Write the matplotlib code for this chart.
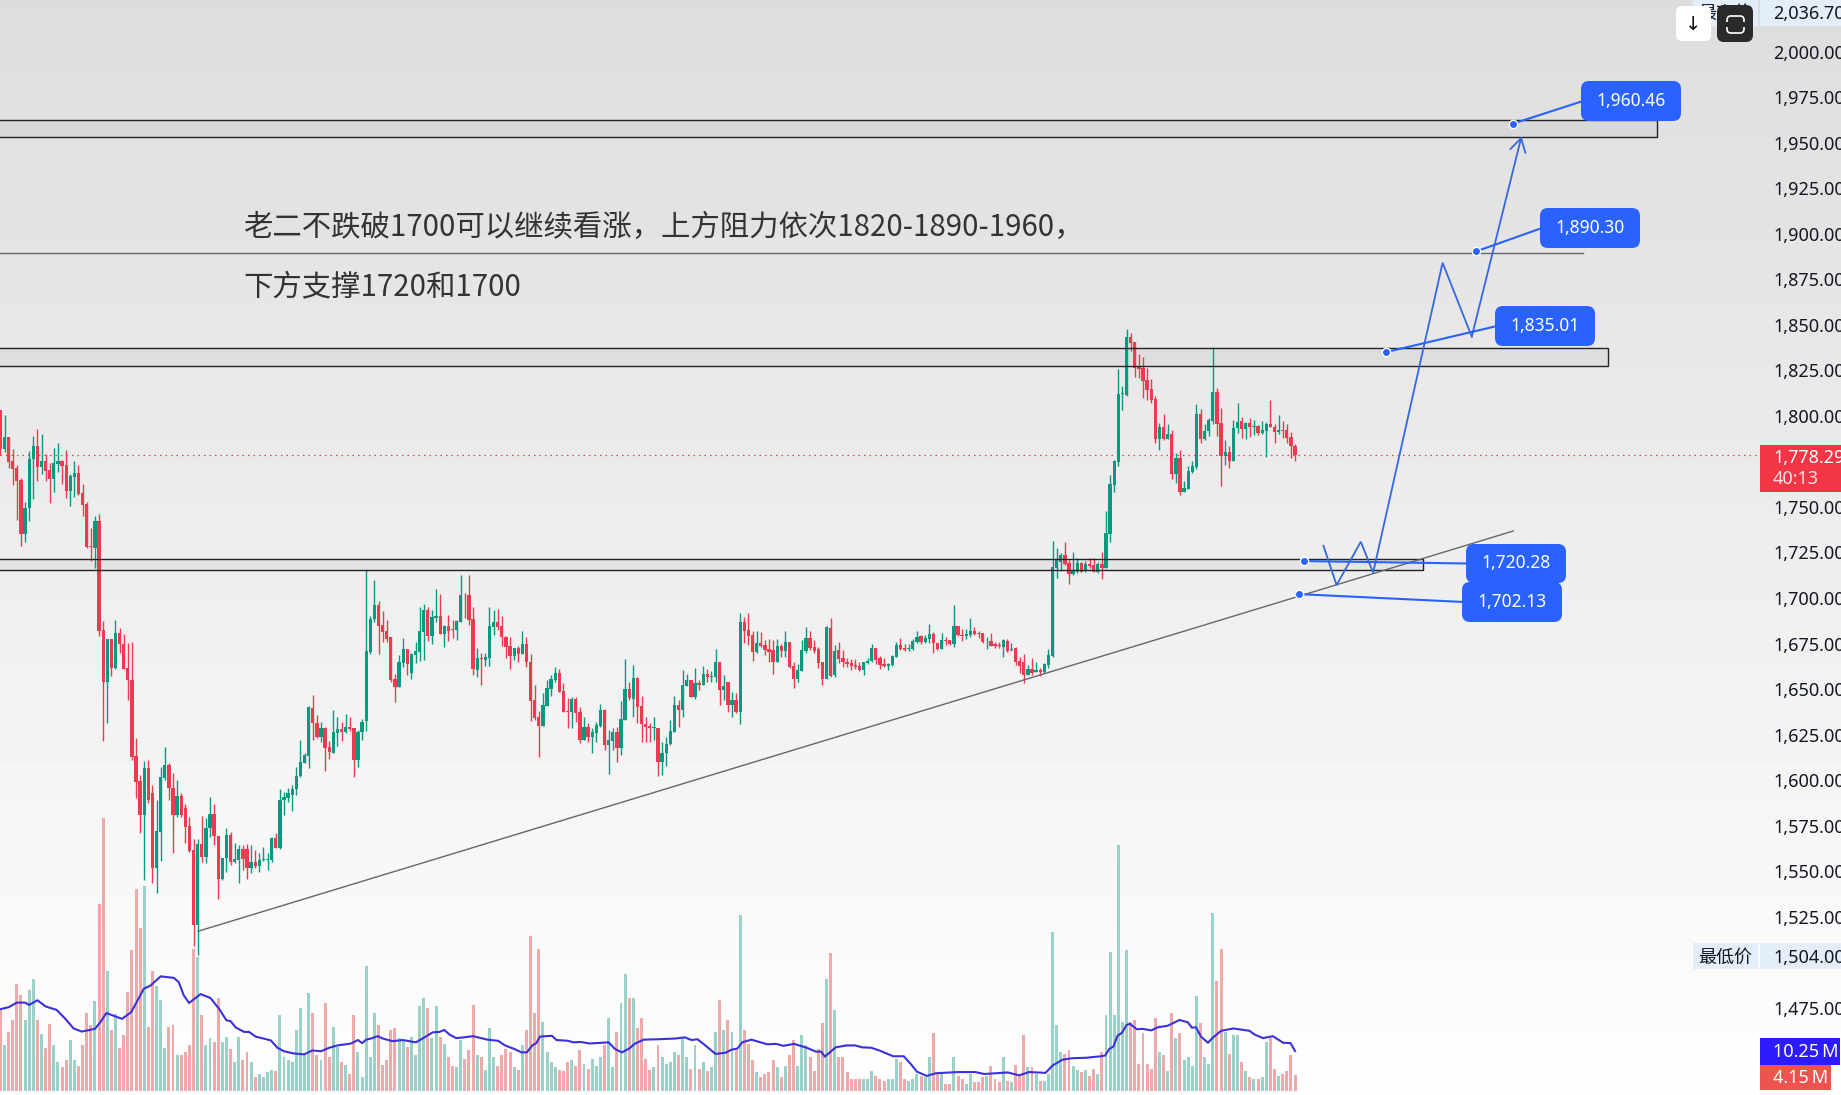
import matplotlib
matplotlib.use("Agg")
import matplotlib.pyplot as plt
import numpy as np
from matplotlib.patches import FancyBboxPatch, Rectangle
from matplotlib.transforms import Affine2D

plt.rcParams["font.family"] = ["Noto Sans CJK SC", "DejaVu Sans"]

# -- K线数据 --
opens = [
    1803.2, 1781.6, 1788.6, 1775.2, 1771.5, 1764.8, 1735.1, 1749.2, 1776.1, 1783.4,
    1772.1, 1775.2, 1770.3, 1765.3, 1773.6, 1775.2, 1773.0, 1758.9, 1766.2, 1768.4,
    1757.4, 1751.6, 1728.5, 1727.6, 1742.3, 1682.4, 1654.0, 1677.6, 1661.3, 1680.6,
    1674.7, 1661.3, 1654.9, 1613.2, 1599.5, 1581.0, 1606.4, 1592.7, 1551.5, 1571.7,
    1600.9, 1608.3, 1595.4, 1581.0, 1591.2, 1584.5, 1574.8, 1561.6, 1520.4, 1564.9,
    1557.9, 1573.5, 1581.4, 1569.3, 1545.7, 1557.0, 1569.8, 1555.2, 1556.1, 1562.1,
    1562.1, 1551.5, 1555.2, 1553.0, 1556.1, 1556.1, 1556.1, 1568.0, 1562.9, 1589.0,
    1590.0, 1591.8, 1594.9, 1602.0, 1609.5, 1613.4, 1639.4, 1631.5, 1623.5, 1628.4,
    1618.3, 1615.0, 1626.0, 1628.0, 1626.4, 1629.3, 1628.4, 1611.0, 1626.4, 1632.4,
    1670.5, 1688.2, 1696.1, 1685.1, 1682.0, 1678.4, 1655.3, 1651.3, 1664.4, 1672.0,
    1659.0, 1668.7, 1670.5, 1681.5, 1693.4, 1679.3, 1689.2, 1690.3, 1680.2, 1684.6, 1682.9, 1682.4,
    1687.0, 1701.9, 1701.7, 1688.3, 1660.5, 1667.1, 1666.0, 1667.3, 1684.3, 1687.0,
    1684.7, 1678.8, 1673.7, 1668.4, 1672.8, 1669.3, 1674.8, 1664.7, 1644.0, 1634.9,
    1629.9, 1640.9, 1650.0, 1655.0, 1658.7, 1649.0, 1638.0, 1637.2, 1644.4, 1637.2,
    1622.1, 1629.4, 1623.9, 1626.0, 1629.7, 1638.5, 1619.3, 1621.7, 1626.6, 1617.8,
    1633.0, 1649.9, 1644.6, 1656.3, 1640.7, 1630.8, 1629.7, 1628.8, 1628.8, 1609.8,
    1614.7, 1619.7, 1626.6, 1641.3, 1638.5, 1651.7, 1655.0, 1645.5, 1653.5, 1652.3,
    1658.1, 1656.8, 1656.8, 1664.9, 1649.5, 1654.1, 1641.3, 1644.0, 1637.2, 1687.0,
    1682.5, 1679.7, 1670.2, 1675.1, 1674.2, 1672.0, 1671.5, 1665.1, 1673.7, 1671.1,
    1676.1, 1662.7, 1655.4, 1659.9, 1671.1, 1677.9, 1672.9, 1671.8, 1664.9, 1655.6,
    1683.4, 1657.7, 1671.5, 1666.9, 1665.1, 1664.5, 1663.2, 1662.7, 1660.5, 1664.2,
    1665.4, 1672.4, 1666.9, 1663.6, 1662.9, 1663.2, 1667.8, 1674.2, 1672.6, 1671.8,
    1671.8, 1676.0, 1679.2, 1676.0, 1677.5, 1680.3, 1675.5, 1672.0, 1677.0, 1677.0,
    1674.8, 1684.7, 1679.7, 1679.2, 1679.7, 1682.1, 1681.0, 1680.6, 1676.2, 1676.4,
    1674.8, 1674.4, 1673.3, 1676.6, 1671.5, 1672.4,
    1665.6, 1664.7, 1657.7, 1661.0, 1659.6, 1660.5, 1659.6, 1663.2,
    1668.2, 1716.3, 1719.6, 1723.7, 1719.1, 1713.0, 1714.5, 1719.1, 1714.9, 1718.7,
    1718.2, 1714.1, 1718.5, 1716.7, 1735.2, 1762.1, 1774.9, 1812.1, 1811.5, 1843.2,
    1840.6, 1827.1, 1826.5, 1819.8, 1814.6, 1809.3, 1787.4, 1794.1, 1787.4, 1790.1,
    1768.3, 1777.1, 1758.4, 1759.9, 1769.4, 1772.2, 1801.1, 1787.2, 1791.7, 1797.2,
    1813.0, 1796.3, 1778.2, 1780.0, 1775.5, 1793.2, 1797.2, 1792.9, 1795.9, 1794.1,
    1794.5, 1790.5, 1791.8, 1795.6, 1794.1, 1791.4, 1792.3, 1792.3, 1788.6, 1783.5,
]
closes = [
    1781.6, 1788.6, 1774.8, 1770.8, 1764.2, 1735.1, 1749.2, 1776.1, 1783.4, 1772.1,
    1775.2, 1769.9, 1765.3, 1773.9, 1775.2, 1772.6, 1758.9, 1767.0, 1768.4, 1757.1,
    1751.0, 1728.2, 1728.2, 1742.3, 1682.0, 1654.0, 1677.6, 1661.7, 1680.6, 1674.7,
    1661.2, 1654.9, 1612.5, 1599.1, 1581.0, 1606.4, 1589.0, 1551.5, 1572.0, 1601.5,
    1608.3, 1595.4, 1581.0, 1591.2, 1581.0, 1574.4, 1561.2, 1520.4, 1564.9, 1557.9,
    1573.5, 1581.4, 1569.3, 1545.7, 1557.4, 1569.8, 1555.2, 1556.5, 1562.1, 1556.5,
    1551.5, 1555.2, 1553.0, 1556.0, 1556.5, 1556.5, 1568.0, 1562.9, 1589.0, 1590.9,
    1592.7, 1594.9, 1602.2, 1610.1, 1613.8, 1639.9, 1631.1, 1623.5, 1628.4, 1617.8,
    1615.6, 1626.6, 1628.0, 1626.4, 1629.3, 1627.8, 1611.0, 1626.4, 1632.1, 1670.9,
    1688.4, 1696.1, 1684.6, 1681.5, 1677.5, 1654.9, 1651.3, 1664.6, 1672.0, 1663.5,
    1669.2, 1670.9, 1681.8, 1693.4, 1679.3, 1689.7, 1690.3, 1680.2, 1684.6, 1682.0, 1682.6, 1687.3,
    1701.7, 1701.5, 1687.9, 1661.0, 1666.9, 1666.4, 1667.4, 1684.7, 1687.0, 1684.3,
    1678.4, 1673.3, 1668.2, 1672.8, 1669.3, 1674.8, 1664.7, 1643.7, 1634.3, 1629.9,
    1641.3, 1650.4, 1655.6, 1658.7, 1648.6, 1637.6, 1637.6, 1644.4, 1637.1, 1622.1,
    1629.4, 1623.5, 1626.4, 1630.3, 1638.5, 1619.3, 1622.1, 1626.6, 1617.8, 1633.4,
    1649.9, 1644.9, 1656.3, 1640.4, 1630.7, 1629.4, 1628.5, 1629.4, 1609.8, 1614.7,
    1619.9, 1627.0, 1641.3, 1638.5, 1652.3, 1655.0, 1645.9, 1653.5, 1652.3, 1658.1,
    1656.5, 1657.2, 1665.1, 1649.5, 1651.7, 1641.3, 1644.0, 1637.2, 1687.0, 1682.1,
    1679.2, 1670.6, 1675.1, 1673.7, 1671.5, 1670.6, 1665.1, 1673.7, 1671.1, 1676.1,
    1662.0, 1655.6, 1660.5, 1671.5, 1677.9, 1672.4, 1671.1, 1664.5, 1655.6, 1684.3,
    1657.4, 1671.1, 1666.5, 1665.1, 1663.8, 1662.7, 1661.9, 1660.5, 1664.7, 1665.3,
    1672.4, 1666.0, 1663.2, 1662.7, 1664.0, 1668.2, 1674.2, 1671.8, 1671.5, 1672.4,
    1676.6, 1678.4, 1675.7, 1677.9, 1680.3, 1675.1, 1672.0, 1677.0, 1676.4, 1674.8,
    1684.7, 1679.5, 1679.3, 1680.3, 1681.9, 1680.3, 1680.3, 1676.0, 1676.6, 1673.9,
    1673.7, 1673.7, 1677.0, 1670.9, 1671.8, 1665.1,
    1662.9, 1657.7, 1661.0, 1659.0, 1660.5, 1659.6, 1663.6, 1668.7,
    1717.2, 1720.9, 1723.7, 1718.5, 1713.2, 1715.4, 1719.1, 1714.5, 1718.5, 1717.6,
    1714.5, 1718.5, 1716.7, 1735.6, 1762.5, 1775.5, 1812.1, 1812.4, 1843.2, 1840.3,
    1826.2, 1825.8, 1819.2, 1814.3, 1808.8, 1787.4, 1794.1, 1787.2, 1790.1, 1768.3,
    1777.1, 1758.4, 1760.3, 1769.8, 1772.5, 1801.1, 1787.4, 1791.9, 1797.8, 1813.0,
    1795.6, 1778.0, 1780.0, 1775.3, 1793.6, 1796.9, 1792.9, 1796.3, 1794.1, 1794.5,
    1790.5, 1792.3, 1795.6, 1793.8, 1791.4, 1792.3, 1791.9, 1787.7, 1783.2, 1778.29,
]
highs = [
    1803.2, 1800.5, 1788.6, 1781.6, 1773.0, 1765.7, 1752.9, 1780.7, 1788.9, 1792.6,
    1790.0, 1778.9, 1773.9, 1782.5, 1784.9, 1775.7, 1781.2, 1768.1, 1775.4, 1773.0,
    1762.6, 1752.9, 1738.2, 1745.0, 1745.9, 1687.3, 1677.6, 1677.6, 1687.9, 1683.3,
    1680.2, 1675.1, 1675.6, 1622.9, 1602.8, 1610.6, 1611.0, 1597.3, 1589.0, 1607.3,
    1618.0, 1609.2, 1603.7, 1600.0, 1592.7, 1586.7, 1579.9, 1567.4, 1567.4, 1580.3,
    1579.0, 1590.9, 1586.7, 1569.3, 1557.4, 1573.5, 1571.7, 1565.2, 1564.3, 1564.3,
    1564.9, 1564.3, 1561.6, 1559.7, 1563.4, 1559.7, 1568.5, 1570.7, 1595.1, 1593.6,
    1595.4, 1597.3, 1607.3, 1622.0, 1615.0, 1640.7, 1646.7, 1635.7, 1632.1, 1629.3,
    1621.6, 1638.5, 1634.8, 1631.7, 1636.3, 1634.8, 1628.4, 1627.5, 1633.3, 1715.3,
    1690.1, 1709.9, 1698.3, 1693.0, 1687.9, 1678.4, 1658.2, 1668.7, 1677.8, 1672.0,
    1669.9, 1676.0, 1695.2, 1696.7, 1695.2, 1693.4, 1704.9, 1702.2, 1685.1, 1690.6, 1687.9, 1687.9,
    1712.7, 1702.6, 1712.7, 1695.3, 1672.4, 1670.0, 1670.0, 1694.9, 1693.4, 1693.8,
    1690.1, 1679.2, 1678.4, 1672.8, 1673.7, 1681.9, 1678.4, 1669.1, 1652.1, 1638.2,
    1647.7, 1655.0, 1657.7, 1662.0, 1660.9, 1653.2, 1644.9, 1645.5, 1645.9, 1640.4,
    1634.9, 1631.2, 1628.5, 1632.1, 1641.6, 1639.1, 1627.5, 1628.5, 1629.0, 1643.7,
    1666.4, 1654.1, 1663.2, 1656.8, 1646.4, 1634.9, 1631.6, 1634.5, 1628.8, 1620.8,
    1623.5, 1633.0, 1646.2, 1644.0, 1660.5, 1658.3, 1655.0, 1661.8, 1655.0, 1662.7,
    1660.9, 1659.9, 1671.9, 1664.9, 1657.7, 1654.1, 1648.6, 1648.0, 1691.6, 1689.8,
    1692.0, 1682.1, 1681.9, 1681.5, 1677.0, 1677.3, 1677.0, 1677.3, 1674.6, 1682.1,
    1676.1, 1665.1, 1663.6, 1677.0, 1683.9, 1682.1, 1677.0, 1672.9, 1664.9, 1684.8,
    1688.9, 1674.2, 1676.1, 1671.5, 1666.9, 1666.5, 1666.3, 1665.1, 1665.1, 1666.9,
    1674.8, 1672.4, 1668.2, 1666.9, 1664.2, 1668.7, 1676.0, 1677.9, 1674.8, 1674.8,
    1677.3, 1681.9, 1679.7, 1679.7, 1685.8, 1681.5, 1675.5, 1680.6, 1678.4, 1677.0,
    1696.2, 1684.7, 1683.0, 1682.8, 1688.9, 1684.3, 1682.1, 1680.6, 1678.4, 1680.6,
    1676.0, 1676.0, 1677.3, 1677.3, 1675.1, 1672.9,
    1667.4, 1669.3, 1663.2, 1666.9, 1664.7, 1661.4, 1664.1, 1672.0,
    1731.5, 1727.3, 1724.6, 1730.6, 1720.9, 1725.1, 1722.2, 1719.6, 1720.5, 1721.8,
    1721.8, 1720.0, 1725.1, 1747.8, 1767.6, 1775.8, 1825.6, 1816.5, 1847.8, 1845.4,
    1840.6, 1833.9, 1832.2, 1826.2, 1820.1, 1811.2, 1796.0, 1801.1, 1795.6, 1792.3,
    1779.5, 1781.3, 1764.3, 1772.5, 1775.5, 1806.6, 1803.8, 1795.6, 1798.7, 1837.7,
    1815.2, 1804.2, 1786.8, 1783.5, 1797.8, 1806.9, 1799.3, 1796.9, 1798.7, 1797.8,
    1795.0, 1797.2, 1796.9, 1808.8, 1795.6, 1800.5, 1797.2, 1795.6, 1791.4, 1784.6,
]
lows = [
    1778.5, 1780.3, 1771.5, 1762.0, 1742.8, 1728.7, 1730.9, 1742.4, 1754.2, 1764.4,
    1768.1, 1764.4, 1752.3, 1758.2, 1769.3, 1762.6, 1755.1, 1750.7, 1755.6, 1756.5,
    1745.2, 1727.2, 1720.5, 1716.6, 1679.3, 1621.6, 1631.5, 1657.1, 1660.8, 1669.6,
    1661.2, 1644.0, 1611.0, 1590.0, 1570.7, 1545.1, 1587.2, 1543.3, 1538.2, 1555.5,
    1600.0, 1589.0, 1559.7, 1579.9, 1579.9, 1565.2, 1560.7, 1508.9, 1504.0, 1555.2,
    1554.6, 1568.9, 1564.3, 1534.5, 1545.1, 1549.7, 1553.3, 1554.7, 1543.3, 1550.6,
    1545.5, 1548.8, 1551.5, 1549.7, 1555.7, 1550.6, 1555.2, 1562.9, 1562.1, 1580.8,
    1588.1, 1583.2, 1591.8, 1601.5, 1609.2, 1606.4, 1622.0, 1622.9, 1621.1, 1605.1,
    1611.6, 1614.7, 1618.7, 1621.6, 1625.7, 1627.1, 1601.8, 1607.3, 1622.0, 1627.1,
    1669.2, 1687.0, 1669.2, 1676.0, 1675.6, 1654.0, 1643.0, 1650.9, 1662.3, 1657.7,
    1655.5, 1664.1, 1665.6, 1665.9, 1676.5, 1674.7, 1687.0, 1680.2, 1673.2, 1676.5, 1677.8, 1676.9,
    1687.0, 1688.9, 1685.2, 1657.7, 1656.8, 1652.3, 1662.7, 1662.7, 1679.7, 1682.5,
    1673.7, 1667.3, 1661.0, 1666.0, 1665.1, 1669.3, 1662.0, 1632.7, 1633.0, 1612.5,
    1629.9, 1640.9, 1646.4, 1654.1, 1648.2, 1637.6, 1628.5, 1628.5, 1632.1, 1620.2,
    1622.1, 1621.1, 1614.7, 1621.1, 1629.4, 1616.6, 1603.4, 1616.6, 1610.2, 1613.8,
    1633.0, 1644.0, 1634.5, 1631.2, 1621.1, 1621.1, 1621.1, 1622.1, 1602.5, 1602.8,
    1608.0, 1619.3, 1626.6, 1629.4, 1634.9, 1651.7, 1645.5, 1644.4, 1649.5, 1652.3,
    1654.1, 1654.1, 1653.7, 1641.3, 1644.0, 1637.2, 1634.9, 1637.1, 1630.8, 1675.1,
    1674.2, 1665.4, 1670.0, 1673.3, 1668.7, 1665.1, 1658.3, 1664.9, 1667.4, 1667.4,
    1661.4, 1650.8, 1654.1, 1659.9, 1670.0, 1671.5, 1670.0, 1661.4, 1652.3, 1655.6,
    1656.8, 1656.5, 1664.2, 1662.3, 1661.9, 1660.5, 1660.9, 1659.9, 1657.7, 1663.8,
    1665.1, 1663.8, 1660.9, 1661.9, 1660.5, 1662.7, 1667.4, 1671.5, 1670.9, 1671.1,
    1671.5, 1675.1, 1674.8, 1675.5, 1675.5, 1670.0, 1671.5, 1671.8, 1674.2, 1674.2,
    1673.3, 1679.2, 1676.6, 1677.3, 1678.4, 1679.9, 1677.9, 1675.1, 1672.0, 1673.7,
    1672.4, 1672.4, 1667.8, 1670.6, 1671.1, 1663.2,
    1658.7, 1653.5, 1657.6, 1657.7, 1659.4, 1657.2, 1659.0, 1661.4,
    1667.8, 1710.8, 1715.1, 1718.2, 1707.7, 1712.7, 1713.6, 1714.5, 1714.5, 1716.3,
    1714.3, 1713.6, 1710.5, 1716.7, 1731.0, 1758.4, 1772.5, 1803.3, 1811.0, 1835.9,
    1821.6, 1820.7, 1810.1, 1808.8, 1806.9, 1785.3, 1781.0, 1786.8, 1787.4, 1765.4,
    1763.4, 1756.6, 1758.2, 1759.9, 1768.5, 1771.1, 1785.3, 1786.8, 1789.2, 1795.6,
    1789.0, 1761.7, 1773.1, 1771.6, 1775.3, 1790.8, 1787.7, 1787.4, 1788.6, 1789.6,
    1789.6, 1790.1, 1777.3, 1793.8, 1785.3, 1789.9, 1787.7, 1785.0, 1776.7, 1775.5,
]

# -- 成交量 (M) --
volumes = [
    20.8, 11.7, 15.1, 18.2, 27.5, 24.7, 18.2, 26.0, 29.0, 18.4,
    14.7, 11.0, 17.3, 11.9, 7.5, 6.2, 7.8, 13.0, 7.8, 6.5,
    11.7, 20.2, 17.1, 23.1, 48.3, 70.6, 31.1, 15.6, 19.9, 11.0,
    14.5, 25.5, 36.3, 52.2, 42.0, 52.9, 16.4, 31.1, 27.0, 23.6,
    11.0, 16.6, 17.1, 9.3, 9.1, 10.1, 11.9, 36.8, 34.6, 19.7,
    11.9, 13.5, 12.5, 24.1, 12.5, 13.8, 10.9, 7.3, 14.0, 7.8,
    9.9, 7.3, 3.4, 4.4, 3.4, 4.9, 5.4, 5.2, 19.5, 8.8,
    8.0, 7.3, 15.6, 21.3, 9.1, 25.4, 20.0, 9.3, 7.8, 22.8,
    8.6, 16.6, 11.4, 7.3, 6.7, 4.4, 19.7, 10.1, 3.4, 32.2,
    8.6, 20.0, 17.1, 6.7, 8.0, 15.6, 16.1, 13.5, 13.2, 11.4,
    13.8, 9.3, 21.8, 24.1, 21.5, 13.5, 21.8, 14.0, 12.2, 8.6, 6.5, 6.2,
    13.0, 8.3, 10.6, 22.1, 9.1, 8.6, 5.4, 16.3, 8.6, 6.5,
    9.3, 10.9, 9.9, 6.2, 5.4, 11.7, 15.6, 40.0, 20.2, 36.8,
    17.9, 9.9, 7.3, 6.2, 5.4, 5.2, 7.5, 7.8, 6.5, 10.6,
    7.0, 5.7, 8.3, 6.5, 8.6, 11.9, 18.7, 6.2, 15.3, 22.6,
    30.1, 23.9, 24.1, 16.3, 18.7, 8.3, 5.4, 6.0, 11.7, 8.8,
    7.0, 7.3, 9.9, 9.3, 13.5, 8.6, 5.7, 11.9, 5.7, 7.5,
    5.2, 6.0, 15.3, 23.4, 15.6, 18.4, 15.1, 10.4, 45.4, 15.6,
    12.2, 7.8, 4.7, 3.6, 4.4, 4.7, 8.0, 6.0, 3.6, 6.5,
    9.1, 13.2, 6.5, 14.5, 11.7, 8.8, 5.2, 10.9, 17.4, 28.8,
    35.6, 20.8, 8.8, 8.6, 4.7, 3.1, 2.9, 3.1, 2.9, 2.9,
    5.2, 3.9, 3.1, 2.6, 2.9, 2.9, 8.3, 7.3, 2.9, 2.6,
    3.1, 4.2, 3.9, 3.6, 8.6, 14.8, 4.2, 4.7, 1.8, 1.6,
    8.8, 3.9, 3.1, 1.8, 4.4, 2.1, 2.1, 3.4, 3.9, 6.5,
    3.1, 2.3, 8.6, 2.6, 2.1, 6.7,
    4.1, 14.3, 6.0, 6.2, 4.4, 2.6, 2.6, 4.2,
    41.0, 17.1, 10.1, 9.6, 10.4, 6.5, 5.4, 4.9, 5.4, 3.9,
    5.7, 4.4, 10.1, 19.7, 35.8, 19.7, 63.6, 17.9, 36.3, 17.9,
    18.4, 7.0, 14.8, 7.0, 5.7, 18.7, 10.1, 9.3, 5.2, 20.0,
    13.5, 14.8, 7.8, 8.6, 6.5, 24.4, 17.6, 8.6, 7.0, 45.9,
    28.3, 36.6, 15.3, 9.6, 14.5, 14.5, 7.5, 5.2, 3.4, 2.9,
    3.1, 3.6, 12.7, 13.5, 5.7, 3.9, 4.2, 5.2, 9.1, 4.15,
]

# -- 成交量均线 --
ma_idx = [
    0, 2, 4, 6, 7, 9, 11, 13.7, 15.8, 17.8, 19.8, 23, 24.3, 25.8, 28, 29.6, 31.8, 33.4, 34.9, 36.5,
    39, 42.2, 43.4, 44.6, 45.9, 48.7, 51.1, 53.2, 55, 56, 57.2, 59.3, 60.5, 62.1, 65.8, 67.4, 69,
    71.5, 73.9, 75.9, 78, 80, 82, 85.3, 87, 88, 89, 90.2, 91.8, 93, 95.4, 97.9, 101.1, 103.2, 105.2,
    106.8, 108, 109.3, 110.9,
    112, 115, 118.5, 121.1, 122.8, 125, 126.8, 128.1, 129.4, 130.4, 131.3, 134.2, 135.3, 138.1,
    139.4, 141.2, 143.4, 148, 149.5, 151.2, 153, 154.3, 156.5, 160, 164.3, 166.5, 168.2, 169.6,
    171.3, 174, 176.4, 177.9, 179.3, 180.5, 182.7, 186.6, 188.8, 190.5, 193.1, 196.2, 198.4, 199.7,
    200.6, 203.2, 205.8, 208, 209.7, 211.9, 214.1, 217.2, 219.8, 221.5, 223, 225.4, 227.6, 232.9,
    237.2, 239.4, 245.1, 247.7,
    248, 250.3, 254.3, 256, 258.4, 260.8, 264.1, 267.8, 268.8, 269.8, 270.8, 271.8, 272.9, 274,
    274.8, 276.5, 277.9, 280, 281.6, 284, 286.9, 288.9, 289.9, 290.9, 292.1, 293.8, 295, 297, 300,
    303.9, 305.2, 307.2, 309.6, 312.1, 313.9, 315,
]
ma_vals = [
    21.1, 21.6, 22.8, 22.8, 22.2, 23.4, 21.8, 20.9, 18.6, 16.1, 15.3, 16.0, 17.7, 20.1, 19.2, 18.6, 20.3, 23.4, 26.4, 27.2,
    29.6, 29.2, 28.1, 24.7, 22.7, 25.0, 24.0, 21.2, 18.2, 18.0, 16.4, 15.2, 15.2, 14.0, 13.0, 11.1, 10.2,
    9.6, 9.4, 10.4, 10.2, 11.1, 11.7, 12.2, 13.1, 12.3, 13.2, 13.5, 14.1, 13.5, 12.8, 13.1, 12.5, 13.8, 15.1,
    15.2, 15.7, 14.5, 13.6,
    13.7, 14.1, 13.2, 12.9, 11.7, 10.8, 9.9, 9.9, 11.7, 12.3, 14.0, 14.2, 13.1, 12.9,
    12.5, 12.6, 12.2, 12.5, 10.8, 9.9, 10.9, 12.1, 13.2, 13.3, 13.5, 13.8, 13.1, 13.3,
    11.9, 9.5, 9.8, 10.6, 10.9, 12.5, 13.2, 12.0, 12.1, 11.6, 12.1, 11.1, 10.1, 10.1,
    8.8, 11.2, 11.7, 11.7, 11.2, 11.1, 10.3, 8.9, 8.9, 6.9, 4.9, 3.8, 4.5, 4.8,
    4.8, 4.3, 4.7, 4.0,
    4.0, 4.8, 4.6, 6.5, 8.0, 8.4, 8.5, 8.9, 9.1, 10.8, 11.4, 14.2, 15.0, 17.0,
    17.3, 15.9, 16.0, 15.6, 16.4, 16.8, 18.3, 17.7, 16.3, 16.4, 14.0, 12.4, 13.7, 15.5, 16.1,
    15.5, 14.5, 13.6, 14.1, 12.4, 12.3, 10.25,
]

# -- 画线与标注 --
price_ticks = [2000, 1975, 1950, 1925, 1900, 1875, 1850, 1825, 1800, 1750, 1725, 1700,
               1675, 1650, 1625, 1600, 1575, 1550, 1525, 1475]
zones = [(1953.0, 1962.3, 403.1), (1827.4, 1837.1, 391.2), (1715.4, 1721.3, 346.2)]
resist_line = (1889.3, 385.1)
trend_idx = [48.1, 368.1]
trend_price = [1517.0, 1736.8]
path_idx = [321.9, 325.1, 331.0, 334.0, 350.9, 358.0, 370.1]
path_price = [1728.7, 1707.1, 1730.9, 1713.9, 1884.1, 1843.5, 1953.5]
tag_idx = [368.0, 359.0, 337.1, 317.2, 316.0]
tag_price = [1960.46, 1890.30, 1835.01, 1720.28, 1702.13]
last_price = 1778.29
low_price = 1504.00
high_price = 2036.70
ma_last = 10.25
vol_last = 4.15

W, H = 1841, 1095
UP, DOWN = "#089981", "#ec3a50"
UP_V, DOWN_V = "#9ad1c8", "#f0a9aa"
BLUE = "#2962ff"
TAG_BG = "#e4edfa"
TXT = "#131722"
NUM_FONT = ["Noto Sans", "DejaVu Sans"]

# 左上角为原点的像素坐标，给标签和按钮用
pix = Affine2D().scale(1, -1).translate(0, H)


def px_to_idx(x):
    return (x - 0.4) / 4.11


def round_box(ax, x0, y0, x1, y1, color, r=7, z=8):
    ax.add_patch(FancyBboxPatch((x0, y0), x1 - x0, y1 - y0, boxstyle=f"round,pad=0,rounding_size={r}",
                                fc=color, ec="none", transform=pix, zorder=z, clip_on=False))


fig = plt.figure(figsize=(W / 100, H / 100), dpi=100)

# 背景渐变
ax_bg = fig.add_axes([0, 0, 1, 1], zorder=0)
shade = np.linspace(221, 254, 256).reshape(-1, 1)
ax_bg.imshow(shade, cmap="gray", vmin=0, vmax=255, aspect="auto", interpolation="bilinear")
ax_bg.axis("off")

xlim = (px_to_idx(0), px_to_idx(W))

# -- 成交量 --
ax_v = fig.add_axes([0, 0, 1, 1], zorder=1)
ax_v.patch.set_visible(False)
ax_v.set_xlim(xlim)
ax_v.set_ylim(-4.4 / 3.86, 1090.6 / 3.86)
ax_v.axis("off")

o = np.array(opens)
c = np.array(closes)
hi = np.array(highs)
lo = np.array(lows)
v = np.array(volumes)
idx = np.arange(len(o))
rising = c >= o

ax_v.bar(idx[rising], v[rising], width=0.72, color=UP_V, lw=0)
ax_v.bar(idx[~rising], v[~rising], width=0.72, color=DOWN_V, lw=0)
ax_v.plot(ma_idx, ma_vals, color="#3a30dc", lw=1.5, solid_joinstyle="round")

# -- K线 --
ax = fig.add_axes([0, 0, 1, 1], zorder=2)
ax.patch.set_visible(False)
ax.set_xlim(xlim)
ax.set_ylim(2000 - (H - 51.7) / 1.821, 2000 + 51.7 / 1.821)
ax.axis("off")

ax.vlines(idx[rising], lo[rising], hi[rising], color=UP, lw=1.0, zorder=3)
ax.vlines(idx[~rising], lo[~rising], hi[~rising], color=DOWN, lw=1.0, zorder=3)
ax.bar(idx[rising], (c - o)[rising], bottom=o[rising], width=0.8, color=UP, lw=0, zorder=4)
ax.bar(idx[~rising], (o - c)[~rising], bottom=c[~rising], width=0.8, color=DOWN, lw=0, zorder=4)

# 现价虚线
ax.plot([xlim[0], px_to_idx(1760)], [last_price, last_price], color="#f23645", lw=0.9,
        dashes=(1.2, 3.2), zorder=2)

# 阻力支撑区间
for low_edge, high_edge, right in zones:
    ax.add_patch(Rectangle((-10, low_edge), right + 10, high_edge - low_edge, fc="#000000", alpha=0.04, lw=0, zorder=2))
    ax.add_patch(Rectangle((-10, low_edge), right + 10, high_edge - low_edge, fc="none", ec="#222222", lw=1.0, zorder=5))
ax.plot([-10, resist_line[1]], [resist_line[0], resist_line[0]], color="#666666", lw=1.0, zorder=5)
ax.plot(trend_idx, trend_price, color="#666666", lw=1.0, zorder=5)

# 走势路径
ax.plot(path_idx[:-1], path_price[:-1], color="#3568e0", lw=1.3, zorder=6, solid_joinstyle="miter")
ax.annotate("", xy=(path_idx[-1], path_price[-1]), xytext=(path_idx[-2], path_price[-2]), zorder=6,
            arrowprops=dict(arrowstyle="->,head_length=0.6,head_width=0.35", color="#3568e0", lw=1.3,
                            shrinkA=0, shrinkB=0, mutation_scale=16))

# 价格标签
tag_boxes = [(1581, 81, 1681, 121), (1540, 208, 1640, 248), (1495, 306, 1595, 346),
             (1466, 544, 1566, 583), (1462, 582, 1562, 622)]
for i_t, p_t, (x0, y0, x1, y1) in zip(tag_idx, tag_price, tag_boxes):
    # 连线从锚点指向标签左缘
    x_a, y_a = ax.transData.transform((i_t, p_t))
    y_a = H - y_a
    x_end = x0 + 2
    y_end = (y0 + y1) / 2
    ax.plot([x_a, x_end], [y_a, y_end], color=BLUE, lw=1.5, transform=pix, zorder=7)
    round_box(ax, x0, y0, x1, y1, BLUE, r=8, z=9)
    ax.text((x0 + x1) / 2, (y0 + y1) / 2, f"{p_t:,.2f}", color="white", fontsize=12.5, weight="bold",
            family=NUM_FONT, ha="center", va="center", transform=pix, zorder=10)
    ax.plot([i_t], [p_t], "o", ms=6, mfc=BLUE, mec="white", mew=1.0, zorder=8)

# 文字观点
ax.text(243, 227, "老二不跌破1700可以继续看涨，上方阻力依次1820-1890-1960，", fontsize=21.2, color="#333333",
        ha="left", va="center", transform=pix, zorder=10)
ax.text(243, 287, "下方支撑1720和1700", fontsize=21.2, color="#333333", ha="left", va="center",
        transform=pix, zorder=10)

# -- 右侧价格轴 --
ytf = ax.get_yaxis_transform() + Affine2D().translate(0, -2)
for t in price_ticks:
    ax.text(1773 / W, t, f"{t:,.2f}", fontsize=13, color=TXT, family=NUM_FONT,
            ha="left", va="center", transform=ytf, clip_on=True, zorder=6)

# 最高价、最低价标签
ax.add_patch(Rectangle((1693, 0), 65, 26, fc=TAG_BG, ec="none", transform=pix, zorder=6))
ax.add_patch(Rectangle((1760, 0), 81, 26, fc=TAG_BG, ec="none", transform=pix, zorder=6))
ax.text(1725, 14, "最高价", fontsize=13, color=TXT, ha="center", va="center", transform=pix, zorder=7)
ax.text(1773, 14, f"{high_price:,.2f}", fontsize=13, color=TXT, family=NUM_FONT,
        ha="left", va="center", transform=pix, zorder=7)

ax.add_patch(Rectangle((1693, 943), 65, 26, fc=TAG_BG, ec="none", transform=pix, zorder=6))
ax.add_patch(Rectangle((1760, 943), 81, 26, fc=TAG_BG, ec="none", transform=pix, zorder=6))
ax.text(1725, 958, "最低价", fontsize=13, color=TXT, ha="center", va="center", transform=pix, zorder=7)
ax.text(1773, 958, f"{low_price:,.2f}", fontsize=13, color=TXT, family=NUM_FONT,
        ha="left", va="center", transform=pix, zorder=7)

# 现价标签
ax.add_patch(Rectangle((1760, 445), 81, 47, fc="#f23645", ec="none", transform=pix, zorder=6))
ax.text(1773, 458, f"{last_price:,.2f}", fontsize=13, color="white", family=NUM_FONT,
        weight="bold", ha="left", va="center", transform=pix, zorder=7)
ax.text(1773, 479, "40:13", fontsize=13, color="#fde3e5", family=NUM_FONT,
        ha="left", va="center", transform=pix, zorder=7)

# 成交量标签
ax.add_patch(Rectangle((1760, 1038), 80, 27, fc="#2c1cff", ec="none", transform=pix, zorder=6))
ax.add_patch(Rectangle((1760, 1065), 71, 25, fc="#ef5350", ec="none", transform=pix, zorder=6))
ax.text(1773, 1052, f"{ma_last:.2f}\u2009M", fontsize=13, color="white", weight="bold",
        family=NUM_FONT, ha="left", va="center", transform=pix, zorder=7)
ax.text(1773, 1078, f"{vol_last:.2f}\u2009M", fontsize=13, color="white", weight="bold",
        family=NUM_FONT, ha="left", va="center", transform=pix, zorder=7)

# 右上角按钮
round_box(ax, 1676, 6, 1711, 41, "white", r=6, z=8)
ax.text(1693, 24, "↓", fontsize=14, color="#111111", family=["DejaVu Sans"], ha="center", va="center",
        transform=pix, zorder=9)
round_box(ax, 1717, 5, 1753, 42, "#2a2a2a", r=7, z=8)
ax.add_patch(FancyBboxPatch((1727, 16), 17, 17, boxstyle="round,pad=0,rounding_size=4", fc="none", ec="white",
                            lw=1.2, transform=pix, zorder=9))
ax.add_patch(Rectangle((1725, 22), 21, 5, fc="#2a2a2a", ec="none", transform=pix, zorder=10))

fig.savefig("out.png", dpi=100)
plt.close(fig)
